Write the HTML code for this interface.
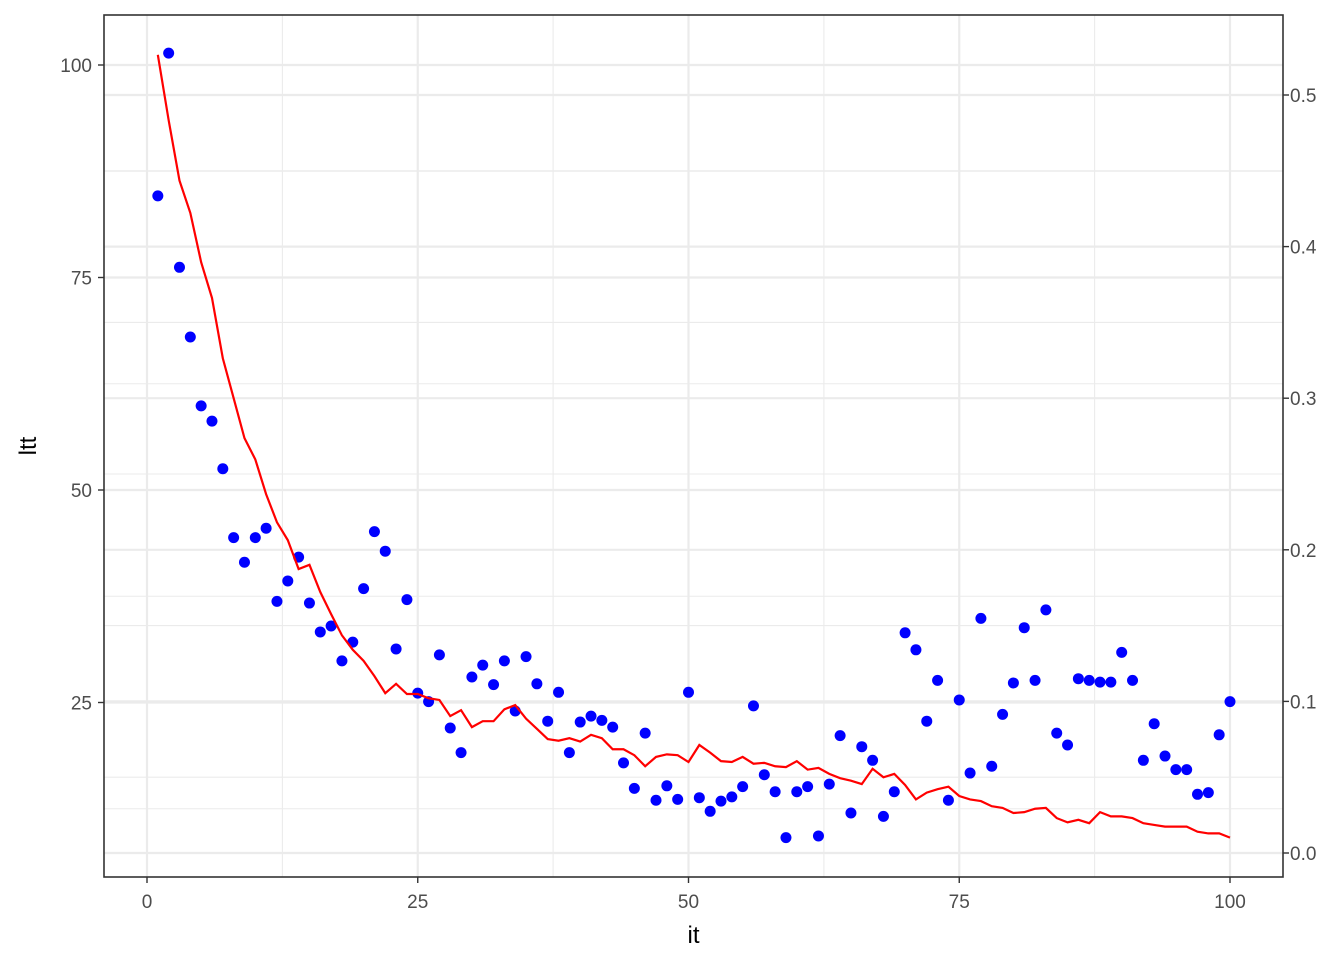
<!DOCTYPE html>
<html><head><meta charset="utf-8"><style>
html,body{margin:0;padding:0;background:#fff}
svg{display:block;font-family:"Liberation Sans",sans-serif}
</style></head><body>
<svg id="chart" width="1344" height="960"></svg>
<script>
const xTicks=[0,25,50,75,100];
const yLeftTicks=[25,50,75,100];
const yRightTicks=[0.0,0.1,0.2,0.3,0.4,0.5];
const yRightLabels=["0.0","0.1","0.2","0.3","0.4","0.5"];
const pointValues=[84.6,101.4,76.2,68,59.9,58.1,52.5,44.4,41.5,44.4,45.5,36.9,39.3,42.1,36.7,33.3,34,29.9,32.1,38.4,45.1,42.8,31.3,37.1,26.1,25.1,30.6,22,19.1,28,29.4,27.1,29.9,24,30.4,27.2,22.8,26.2,19.1,22.7,23.4,22.9,22.1,17.9,14.9,21.4,13.5,15.2,13.6,26.2,13.8,12.2,13.4,13.9,15.1,24.6,16.5,14.5,9.1,14.5,15.1,9.3,15.4,21.1,12,19.8,18.2,11.6,14.5,33.2,31.2,22.8,27.6,13.5,25.3,16.7,34.9,17.5,23.6,27.3,33.8,27.6,35.9,21.4,20,27.8,27.6,27.4,27.4,30.9,27.6,18.2,22.5,18.7,17.1,17.1,14.2,14.4,21.2,25.1];
const lineValues=[101.2,93.5,86.4,82.6,76.8,72.6,65.5,60.8,56.1,53.6,49.5,46.2,44.1,40.7,41.2,38,35.4,32.9,31.2,29.9,28.1,26.1,27.2,26,26,25.5,25.3,23.4,24.1,22.1,22.8,22.8,24.2,24.7,23.1,21.9,20.7,20.5,20.8,20.4,21.2,20.8,19.5,19.5,18.8,17.5,18.6,18.9,18.8,18,20,19.1,18.1,18,18.6,17.8,17.9,17.5,17.4,18.1,17.1,17.3,16.6,16.1,15.8,15.4,17.2,16.2,16.6,15.3,13.6,14.4,14.8,15.1,14,13.6,13.4,12.8,12.6,12,12.1,12.5,12.6,11.4,10.9,11.2,10.8,12.1,11.6,11.6,11.4,10.8,10.6,10.4,10.4,10.4,9.8,9.6,9.6,9.1];

const NS="http://www.w3.org/2000/svg";
const svg=document.getElementById('chart');
const L=104,R=1283,T=15,B=877;
const xs=v=>147+v*(1230-147)/100;
const yl=v=>915-v*8.5;
const yr=v=>853-v*1516;
function mk(tag,attrs,parent){const e=document.createElementNS(NS,tag);for(const k in attrs)e.setAttribute(k,attrs[k]);(parent||svg).appendChild(e);return e;}

const grid=mk('g',{});


// minor verticals
for(let i=0;i<xTicks.length-1;i++){const x=xs((xTicks[i]+xTicks[i+1])/2);mk('line',{x1:x,x2:x,y1:T,y2:B,stroke:'#ebebeb','stroke-width':1.1},grid);}
// minor horizontals left
[12.5,37.5,62.5,87.5].forEach(v=>{mk('line',{x1:L,x2:R,y1:yl(v),y2:yl(v),stroke:'#ebebeb','stroke-width':1.1},grid);});
[0.05,0.15,0.25,0.35,0.45].forEach(v=>{mk('line',{x1:L,x2:R,y1:yr(v),y2:yr(v),stroke:'#ebebeb','stroke-width':1.1},grid);});
xTicks.forEach(v=>{mk('line',{x1:xs(v),x2:xs(v),y1:T,y2:B,stroke:'#ebebeb','stroke-width':2.2},grid);});
yLeftTicks.forEach(v=>{mk('line',{x1:L,x2:R,y1:yl(v),y2:yl(v),stroke:'#ebebeb','stroke-width':2.2},grid);});
yRightTicks.forEach(v=>{mk('line',{x1:L,x2:R,y1:yr(v),y2:yr(v),stroke:'#ebebeb','stroke-width':2.2},grid);});

// points
const pg=mk('g',{});


pointValues.forEach((v,i)=>{const c=mk('circle',{cx:xs(i+1),cy:yl(v),r:5.5,fill:'#0000ff'},pg);

});

// line
const path=mk('polyline',{points:lineValues.map((v,i)=>xs(i+1)+','+yl(v)).join(' '),fill:'none',stroke:'#ff0000','stroke-width':2.2});



// frame
const fr=mk('rect',{x:L,y:T,width:R-L,height:B-T,fill:'none',stroke:'#333','stroke-width':1.6});



// x ticks
xTicks.forEach(v=>{mk('line',{x1:xs(v),x2:xs(v),y1:B,y2:B+6,stroke:'#333','stroke-width':1.4});
const t=mk('text',{x:xs(v),y:B+31,'text-anchor':'middle','font-size':19,fill:'#4d4d4d'});t.textContent=v;

});
yLeftTicks.forEach(v=>{mk('line',{x1:L-6,x2:L,y1:yl(v),y2:yl(v),stroke:'#333','stroke-width':1.4});
const t=mk('text',{x:L-12,y:yl(v)+7,'text-anchor':'end','font-size':19,fill:'#4d4d4d'});t.textContent=v;

});
yRightTicks.forEach((v,i)=>{mk('line',{x1:R,x2:R+6,y1:yr(v),y2:yr(v),stroke:'#333','stroke-width':1.4});
const t=mk('text',{x:R+7,y:yr(v)+7,'text-anchor':'start','font-size':19,fill:'#4d4d4d'});t.textContent=yRightLabels[i];

});

const xt=mk('text',{x:(L+R)/2,y:943,'text-anchor':'middle','font-size':24,fill:'#000'});xt.textContent='it';


const yt=mk('text',{x:36,y:(T+B)/2,'text-anchor':'middle','font-size':24,fill:'#000',transform:'rotate(-90 36 '+((T+B)/2)+')'});yt.textContent='ltt';


</script>
</body></html>
